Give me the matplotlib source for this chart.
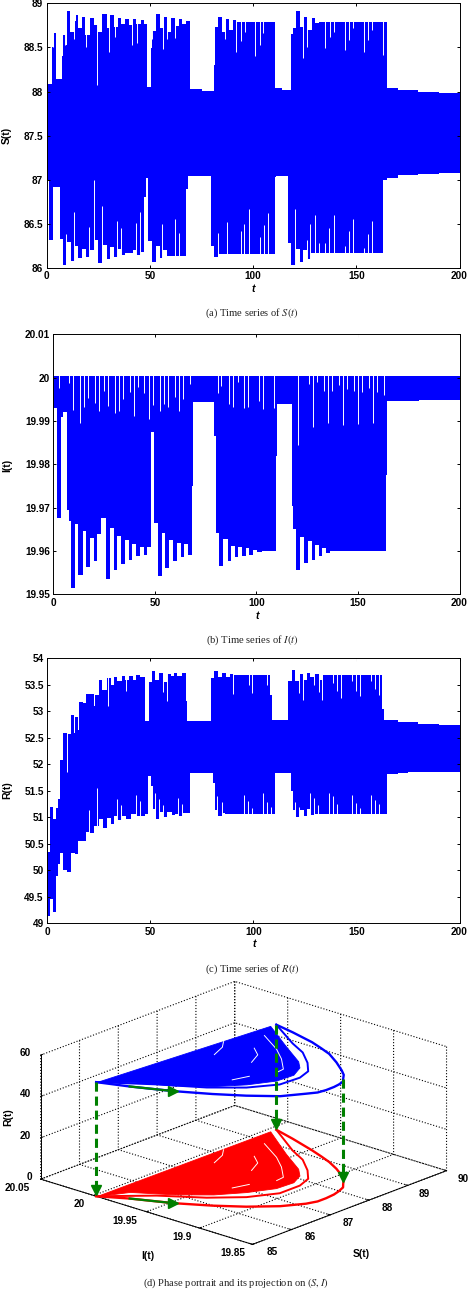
import matplotlib
matplotlib.use('Agg')
import matplotlib.pyplot as plt
from bisect import bisect_right
from mpl_toolkits.mplot3d.art3d import Poly3DCollection

plt.rcParams['font.family'] = ['Liberation Sans', 'DejaVu Sans']
plt.rcParams['mathtext.fontset'] = 'stix'

W, H = 470, 1290

# panel (a) S(t): step envelopes, each value holds from its t to the next t
s_up_t = [0, 2.5, 3.3, 4.5, 7.5, 8, 9.5, 9.7, 11.3, 13.5, 14, 15, 17, 18.6, 21, 23, 25, 27, 29, 30.7, 32.5, 34.5, 36, 38, 40, 41.7, 43.4, 45.6, 47.2, 48.7, 50.7, 51, 53, 54.7, 56.6, 58.2, 60.4, 62, 64, 65.7, 67.6, 69.3, 75, 80.9, 81.4, 83, 84.8, 87, 88.5, 90.3, 92, 110.4, 114, 118.6, 119.3, 121, 122.5, 124.6, 126, 128.3, 129.8, 132, 164.7, 170, 180, 190, 200]
s_up = [88.08, 88.5, 88.66, 88.14, 88.4, 88.64, 88.53, 88.91, 88.68, 88.8, 88.87, 88.72, 88.85, 88.64, 88.83, 88.75, 88.67, 88.88, 88.72, 88.87, 88.73, 88.83, 88.76, 88.82, 88.75, 88.82, 88.77, 88.81, 88.77, 88.05, 88.49, 88.69, 88.88, 88.72, 88.85, 88.67, 88.83, 88.74, 88.82, 88.76, 88.8, 88.03, 88.01, 88.3, 88.73, 88.85, 88.68, 88.82, 88.7, 88.81, 88.79, 88.04, 88.02, 88.65, 88.72, 88.91, 88.73, 88.85, 88.7, 88.83, 88.78, 88.79, 88.04, 88.02, 88.0, 87.98, 87.98]
s_lo_t = [0, 1.3, 3, 6.5, 7.8, 9.4, 11.6, 13.5, 15, 17, 19, 21, 23.3, 25, 27, 29, 30.5, 32.5, 34.5, 36, 38, 41.7, 43.5, 45.6, 47.3, 48, 49.2, 51.1, 53, 54.7, 56.3, 58.3, 67.6, 68.3, 79.6, 81, 83, 110.4, 111, 117, 118.6, 120.7, 122.5, 124, 126, 128, 163, 165, 170, 180, 190, 200]
s_lo = [87.0, 86.32, 86.92, 86.33, 86.03, 86.29, 86.08, 86.25, 86.11, 86.22, 86.13, 86.2, 86.32, 86.06, 86.26, 86.1, 86.24, 86.12, 86.22, 86.15, 86.17, 86.2, 86.15, 86.18, 86.81, 87.02, 86.31, 86.07, 86.25, 86.11, 86.2, 86.14, 86.89, 87.04, 86.25, 86.12, 86.16, 87.03, 87.04, 86.28, 86.03, 86.21, 86.07, 86.2, 86.1, 86.17, 87.0, 87.02, 87.05, 87.07, 87.08, 87.08]
s_up_slit_t = [3.2, 8.9, 13.2, 18.8, 24.4, 30.4, 33, 41.4, 43.7, 51.2, 56.4, 58.3, 62.3, 86.5, 91.8, 93.9, 96, 101, 103.2, 105, 124, 125.9, 135, 137.2, 139.2, 144.5, 146.4, 148.2, 153.9, 155.8, 157.6, 163]
s_up_slit = [88.5, 88.53, 88.6, 88.5, 88.07, 88.45, 88.62, 88.53, 88.55, 88.6, 88.48, 88.6, 88.61, 88.6, 88.45, 88.57, 88.68, 88.4, 88.53, 88.66, 88.38, 88.5, 88.49, 88.62, 88.68, 88.47, 88.58, 88.72, 88.45, 88.58, 88.7, 88.41]
s_lo_slit_t = [9.4, 13.3, 20.7, 23.1, 26.9, 34.3, 36, 43.4, 45.3, 56, 62, 64, 83, 87.5, 93.9, 95.8, 97.9, 103.2, 105.2, 107.1, 120.5, 125.9, 127.8, 129.8, 131.8, 135, 137, 139.2, 144.5, 146.4, 148.2, 153.7, 155.7, 157.6]
s_lo_slit = [86.38, 86.64, 86.47, 87.0, 86.7, 86.53, 86.45, 86.51, 86.64, 86.5, 86.55, 86.4, 86.4, 86.52, 86.42, 86.5, 86.67, 86.35, 86.49, 86.62, 86.67, 86.32, 86.5, 86.6, 86.28, 86.28, 86.45, 86.6, 86.25, 86.42, 86.56, 86.23, 86.38, 86.53]

# panel (b) I(t)
i_up_t = [0, 200]
i_up = [20.0004, 20.0004]
i_lo_t = [0, 1.6, 3.8, 4.9, 6.5, 7.8, 8.7, 10.6, 12, 14.4, 16, 18, 20, 21.6, 23.7, 25.8, 28, 29.7, 31.5, 33.5, 35.1, 37.3, 38.9, 40.6, 42.5, 44.5, 46, 48.2, 49.8, 51.5, 53.4, 55.1, 57, 59, 60.7, 62.7, 64.4, 66.3, 68.3, 69, 79.2, 80, 81.7, 83.8, 86, 87.5, 89.5, 91, 93, 95, 96.5, 98.5, 100.5, 103, 109.5, 110.3, 117.5, 118.2, 119.5, 121.4, 123.4, 125.5, 127.3, 129, 130.6, 132.5, 134.3, 136.2, 163.9, 164.3, 164.5, 170, 180, 190, 200]
i_lo = [19.993, 19.9675, 19.991, 19.992, 19.9695, 19.967, 19.9515, 19.9662, 19.9545, 19.9645, 19.9562, 19.963, 19.9578, 19.964, 19.9675, 19.9535, 19.9652, 19.9555, 19.9635, 19.957, 19.9625, 19.958, 19.9615, 19.9588, 19.961, 19.959, 19.961, 19.9875, 19.9665, 19.9543, 19.9642, 19.956, 19.9626, 19.9578, 19.9618, 19.9585, 19.9615, 19.959, 19.975, 19.9943, 19.9865, 19.9642, 19.9565, 19.9628, 19.9578, 19.9612, 19.9585, 19.961, 19.9588, 19.9606, 19.959, 19.9603, 19.9597, 19.96, 19.982, 19.9939, 19.9704, 19.9651, 19.9555, 19.9632, 19.9572, 19.9622, 19.9579, 19.9614, 19.9588, 19.9606, 19.9596, 19.96, 19.9775, 19.9939, 19.9945, 19.9947, 19.9949, 19.9949, 19.9949]
i_up_slit_t = [2.9, 7.8, 9.6, 13.1, 15.2, 17.2, 20.7, 22.5, 25, 27, 30.4, 32.4, 34.3, 37.6, 39.7, 41.7, 44.9, 47, 49.2, 52.5, 54.4, 56.4, 59.8, 61.8, 63.7, 67.2, 80.9, 82.8, 86.3, 88.7, 90.8, 94.1, 96.1, 101.5, 103.4, 108.8, 120.6, 126, 128, 129.9, 133.3, 135.3, 137.3, 140.7, 142.6, 144.6, 148, 150, 152, 155.4, 157.4, 159.5, 162.7]
i_up_slit = [19.9975, 19.9987, 19.9925, 19.9896, 19.9933, 19.9952, 19.9942, 19.9922, 19.9969, 19.9935, 19.9918, 19.9922, 19.9951, 19.9968, 19.9912, 19.9979, 19.9964, 19.9904, 19.9937, 19.9922, 19.9939, 19.9933, 19.9956, 19.9922, 19.9951, 19.9985, 19.9964, 19.9981, 19.9939, 19.9933, 19.9989, 19.9931, 19.9933, 19.9945, 19.9928, 19.9931, 19.9845, 19.9985, 19.9885, 19.999, 19.9969, 19.9896, 19.9969, 19.9983, 19.989, 19.9973, 19.9969, 19.9893, 19.9968, 19.9975, 19.9896, 19.9968, 19.9961]

# panel (c) R(t)
r_up_t = [0, 1.3, 2.9, 4.2, 5.3, 6.1, 7.8, 9.4, 11.5, 13, 13.4, 15, 15.5, 17.1, 18.8, 20.7, 22.5, 23.1, 25, 26.7, 28.8, 30.7, 32.3, 34, 36.1, 37.8, 39.4, 41.5, 43.1, 44.8, 47.3, 49.4, 51, 52.4, 54.3, 56.3, 58.3, 59.9, 61.5, 63.1, 65.5, 67.3, 68, 79.3, 80.9, 82.9, 85, 86.6, 88.7, 90.3, 108.1, 108.9, 116.7, 118.6, 120.2, 122.5, 124.1, 126.1, 127.4, 129.6, 131.6, 134, 162.6, 163.6, 170, 180, 190, 200]
r_up = [50.35, 51.2, 50.97, 51.18, 51.35, 52.08, 52.6, 52.57, 52.93, 52.6, 52.9, 52.65, 53.17, 53.15, 53.33, 53.32, 53.1, 53.3, 53.6, 53.4, 53.62, 53.5, 53.64, 53.57, 53.66, 53.6, 53.66, 53.6, 53.68, 53.64, 52.82, 53.55, 53.76, 53.6, 53.73, 53.55, 53.7, 53.66, 53.72, 53.66, 53.72, 53.2, 52.81, 53.62, 53.76, 53.65, 53.72, 53.64, 53.7, 53.68, 53.3, 52.84, 53.57, 53.77, 53.57, 53.7, 53.6, 53.72, 53.65, 53.71, 53.6, 53.68, 53.05, 52.83, 52.8, 52.76, 52.75, 52.75]
r_lo_t = [0, 1.3, 2.9, 4.2, 5.3, 6.1, 7.8, 9.4, 11.5, 13.4, 15, 17.5, 18.8, 20.7, 22.5, 25, 27, 28.8, 30.7, 32.3, 34, 36.1, 38.2, 40.5, 43, 45, 47.3, 49, 50.3, 51.1, 52.7, 54.5, 56.3, 58.3, 60.4, 62, 64, 66, 69, 80.6, 81.4, 83, 84.6, 86.2, 110.5, 118.3, 119, 120.6, 122.5, 124.6, 125.9, 127.5, 129.6, 164.7, 170, 175, 200]
r_lo = [49.14, 49.45, 49.22, 49.9, 50.12, 50.33, 50.0, 49.96, 50.33, 50.3, 50.56, 50.55, 50.72, 50.7, 50.83, 50.97, 50.8, 50.98, 50.88, 51.02, 50.95, 51.02, 50.97, 51.06, 51.02, 51.03, 51.07, 51.78, 51.6, 51.15, 50.97, 51.1, 51.0, 51.1, 51.05, 51.07, 51.03, 51.08, 51.84, 51.65, 51.13, 51.03, 51.08, 51.07, 51.84, 51.49, 51.14, 51.01, 51.14, 51.03, 51.15, 51.05, 51.07, 51.82, 51.84, 51.86, 51.86]
r_up_slit_t = [9.7, 22.8, 29.5, 38, 56.3, 58.3, 90.3, 97.9, 99.5, 106.8, 122.3, 124.3, 129.6, 131.6, 133.5, 138.8, 140.8, 142.7, 148, 150, 151.8, 157.3, 159.2, 161]
r_up_slit = [51.86, 53.2, 53.1, 53.38, 53.36, 53.2, 53.32, 53.5, 53.34, 53.5, 53.35, 53.21, 53.5, 53.37, 53.21, 53.54, 53.39, 53.26, 53.58, 53.39, 53.28, 53.58, 53.42, 53.31]
r_lo_slit_t = [20.2, 24.3, 34, 35.8, 43, 45, 52.3, 54.2, 56.3, 63.6, 65.5, 82.2, 84.6, 95.6, 97.6, 99.5, 104.9, 106.8, 108.7, 120.2, 122.1, 127.5, 129.4, 131.4, 136.7, 138.8, 140.8, 148, 150, 151.8, 157.3, 159.2, 161]
r_lo_slit = [51.14, 51.55, 51.35, 51.23, 51.42, 51.3, 51.45, 51.34, 51.23, 51.36, 51.25, 51.4, 51.29, 51.42, 51.3, 51.17, 51.46, 51.29, 51.2, 51.29, 51.2, 51.46, 51.37, 51.24, 51.46, 51.4, 51.25, 51.42, 51.27, 51.17, 51.42, 51.33, 51.25]

# panel (d) phase portrait, outer orbit and next one in
outer_s = [85.0, 85.30, 85.63, 85.99, 86.34, 86.75, 87.14, 87.36, 87.58, 87.81, 87.99, 88.18, 88.32, 88.47, 88.61, 88.80, 88.97, 89.09, 89.21, 89.42, 89.57]
outer_i = [19.9976, 19.977, 19.948, 19.924, 19.905, 19.888, 19.878, 19.875, 19.875, 19.876, 19.878, 19.881, 19.886, 19.891, 19.898, 19.910, 19.923, 19.935, 19.948, 19.974, 19.995]
outer_r = [55.2, 54.2, 54.2, 54.0, 53.7, 53.2, 53.2, 52.7, 52.3, 52.0, 51.6, 51.2, 50.8, 50.8, 50.8, 51.5, 52.3, 52.3, 52.3, 51.5, 50.8]
second_s = [89.57, 88.98, 88.75, 88.41, 88.10, 87.75, 87.23, 86.70, 86.22, 85.72, 85.0]
second_i = [19.995, 19.958, 19.940, 19.923, 19.911, 19.906, 19.906, 19.918, 19.938, 19.967, 19.9976]
second_r = [50.8, 51.8, 51.9, 52.0, 52.0, 52.2, 52.6, 53.0, 53.3, 53.8, 55.2]
blob_s = [89.44, 88.78, 88.36, 88.12, 87.80, 87.38, 86.89, 86.42, 85.96, 85.55, 85.0]
blob_i = [19.996, 19.957, 19.930, 19.920, 19.914, 19.915, 19.925, 19.939, 19.960, 19.986, 19.9976]
blob_r = [51.0, 52.0, 52.0, 52.3, 52.0, 52.0, 52.1, 52.4, 52.7, 53.2, 55.2]
strand_s = [[88.21, 87.99, 87.62], [88.32, 88.11, 87.76], [88.91, 88.54, 88.23, 87.87, 87.67], [86.88, 87.21]]
strand_i = [[19.995, 19.988, 19.982], [19.970, 19.959, 19.952], [19.982, 19.957, 19.941, 19.926, 19.925], [19.938, 19.934]]
arrow_s = [85.30, 85.63]
arrow_i = [19.977, 19.948]
drop_s = [85.0, 89.57, 88.32]
drop_i = [19.9976, 19.995, 19.886]
drop_r = [55.2, 50.8, 50.8]

S_TICKS = [85, 86, 87, 88, 89, 90]
I_TICKS = [19.85, 19.9, 19.95, 20, 20.05]
R_TICKS = [0, 20, 40, 60]
T_TICKS = [0, 50, 100, 150, 200]

S_LABELS = ['85', '86', '87', '88', '89', '90']
I_LABELS = ['20.05', '20', '19.95', '19.9', '19.85']
R_LABELS = ['0', '20', '40', '60']

BLUE = '#0000ff'
RED = '#ff0000'
GREEN = '#008000'
TICK_SIZE = 7.2


def px_axes(fig, left, top, right, bottom):
    return fig.add_axes([left / W, 1 - bottom / H, (right - left) / W, (bottom - top) / H])


def fx(x):
    return x / W


def fy(y):
    return 1 - y / H


def step_at(ts, vals, t):
    return vals[bisect_right(ts, t) - 1]


def time_panel(fig, box, ylim, yticks, ylabels, up_t, up, lo_t, lo, up_slit, lo_slit):
    ax = px_axes(fig, *box)
    edges = sorted(set(up_t + lo_t))
    hi = [step_at(up_t, up, t) for t in edges]
    low = [step_at(lo_t, lo, t) for t in edges]
    ax.fill_between(edges, low, hi, step='post', color=BLUE, lw=0)
    if up_slit:
        ax.vlines(up_slit[0], up_slit[1], ylim[1], color='white', lw=0.7, zorder=2)
    if lo_slit:
        ax.vlines(lo_slit[0], ylim[0], lo_slit[1], color='white', lw=0.7, zorder=2)
    ax.set_xlim(0, 200)
    ax.set_ylim(*ylim)
    ax.set_xticks(T_TICKS)
    ax.set_yticks(yticks)
    ax.set_yticklabels(ylabels)
    ax.tick_params(direction='in', top=True, right=True, length=2.2, width=0.7, pad=2.5,
                   labelsize=TICK_SIZE)
    for lab in ax.get_xticklabels() + ax.get_yticklabels():
        lab.set_fontweight('bold')
    for sp in ax.spines.values():
        sp.set_linewidth(0.7)
    return ax


fig = plt.figure(figsize=(W / 100, H / 100), dpi=100)

time_panel(fig, (46.7, 3.3, 459.5, 268), (86, 89), [86, 86.5, 87, 87.5, 88, 88.5, 89],
           ['86', '86.5', '87', '87.5', '88', '88.5', '89'],
           s_up_t, s_up, s_lo_t, s_lo, (s_up_slit_t, s_up_slit), (s_lo_slit_t, s_lo_slit))
time_panel(fig, (53.3, 334.3, 459.5, 594.3), (19.95, 20.01), [19.95, 19.96, 19.97, 19.98, 19.99, 20, 20.01],
           ['19.95', '19.96', '19.97', '19.98', '19.99', '20', '20.01'],
           i_up_t, i_up, i_lo_t, i_lo, (i_up_slit_t, i_up_slit), None)
time_panel(fig, (47.3, 658.3, 459.5, 923.3), (49, 54), [49, 49.5, 50, 50.5, 51, 51.5, 52, 52.5, 53, 53.5, 54],
           ['49', '49.5', '50', '50.5', '51', '51.5', '52', '52.5', '53', '53.5', '54'],
           r_up_t, r_up, r_lo_t, r_lo, (r_up_slit_t, r_up_slit), (r_lo_slit_t, r_lo_slit))

for x, y, s in [(7, 135, 'S(t)'), (7, 465, 'I(t)'), (7, 790, 'R(t)')]:
    fig.text(fx(x), fy(y), s, rotation=90, ha='center', va='center', fontsize=7.5, fontweight='bold')
for x, y in [(253, 289), (257, 616), (254, 944)]:
    fig.text(fx(x), fy(y), 't', ha='center', va='center', fontsize=7.5, fontweight='bold', style='italic')

caps = [(252, 313, '(a) Time series of $S(t)$'), (252, 640, '(b) Time series of $I(t)$'),
        (252, 969, '(c) Time series of $R(t)$'), (236, 1283, '(d) Phase portrait and its projection on $(S, I)$')]
for x, y, s in caps:
    fig.text(fx(x), fy(y), s, ha='center', va='center', fontsize=7.6, family=['Liberation Serif', 'DejaVu Serif'],
             color='#222222')

# 3d panel, orthographic so the box matches the flat look of the original
ax3 = fig.add_axes([30.5 / W, 1 - 1326 / H, 415 / W, 415 / H], projection='3d', proj_type='ortho')
ax3.patch.set_alpha(0)
ax3.computed_zorder = False
ax3.view_init(elev=20, azim=-138)
ax3.set_box_aspect((290, 285, 132))

for axis in (ax3.xaxis, ax3.yaxis, ax3.zaxis):
    axis.set_pane_color((1, 1, 1, 0))
    axis.pane.set_edgecolor('none')
    axis._axinfo['grid'].update(color='black', linestyle=':', linewidth=0.8)
    axis._axinfo['tick'].update(inward_factor=0.0, outward_factor=0.12, linewidth={True: 0.7, False: 0.7})
    axis.line.set_linewidth(0.7)
    axis.line.set_color('black')

for z, color, r_out, r_sec, r_blob, zo in [(1, BLUE, outer_r, second_r, blob_r, 3),
                                           (0, RED, [0] * len(outer_r), [0] * len(second_r), [0] * len(blob_r), 2)]:
    verts = list(zip(blob_s, blob_i, r_blob))
    poly = Poly3DCollection([verts], facecolor=color, edgecolor=color, linewidth=0.6, zorder=zo)
    ax3.add_collection3d(poly)
    ax3.plot(outer_s, outer_i, r_out, color=color, lw=1.7, zorder=zo)
    ax3.plot(second_s, second_i, r_sec, color=color, lw=1.4, zorder=zo)
    for ss, ii in zip(strand_s, strand_i):
        ax3.plot(ss, ii, [52.3 * z] * len(ss), color='white', lw=0.7, zorder=zo + 0.1)
    ax3.plot(arrow_s, arrow_i, [54.2 * z] * 2, color=GREEN, lw=1.6, zorder=4)
    ax3.plot(arrow_s[-1:], arrow_i[-1:], [54.2 * z], marker='>', ms=7, color=GREEN, zorder=4, ls='none')

for ss, ii, rr in zip(drop_s, drop_i, drop_r):
    ax3.plot([ss, ss], [ii, ii], [rr, 3], color=GREEN, lw=2.2, ls=(0, (3, 1.6)), zorder=5)
    ax3.plot([ss], [ii], [3], marker='v', ms=7, color=GREEN, zorder=5, ls='none')

ax3.set_xlim(85, 90, view_margin=0)
ax3.set_ylim(19.85, 20.05, view_margin=0)
ax3.set_zlim(0, 60, view_margin=0)
ax3.set_xticks(S_TICKS)
ax3.set_yticks(I_TICKS)
ax3.set_zticks(R_TICKS)
ax3.set_xticklabels([])
ax3.set_yticklabels([])
ax3.set_zticklabels([])

# tick labels placed by hand, mplot3d has no good way to shift them
s_label_px = [(272, 1252), (310, 1237), (348, 1223), (387, 1208), (424, 1194), (463, 1179)]
i_label_px = [(17, 1188), (79, 1204), (125, 1221), (182, 1237), (233, 1253)]
r_label_px = [(29, 1177), (25, 1136), (25, 1094), (25, 1053)]
for labels, places in [(S_LABELS, s_label_px), (I_LABELS, i_label_px), (R_LABELS, r_label_px)]:
    for s, (x, y) in zip(labels, places):
        fig.text(fx(x), fy(y), s, ha='center', va='center', fontsize=TICK_SIZE, fontweight='bold')

fig.text(fx(8), fy(1117), 'R(t)', rotation=90, ha='center', va='center', fontsize=7.5, fontweight='bold')
fig.text(fx(148), fy(1256), 'I(t)', ha='center', va='center', fontsize=7.5, fontweight='bold')
fig.text(fx(361), fy(1254), 'S(t)', ha='center', va='center', fontsize=7.5, fontweight='bold')

fig.savefig('out.png', dpi=100)
